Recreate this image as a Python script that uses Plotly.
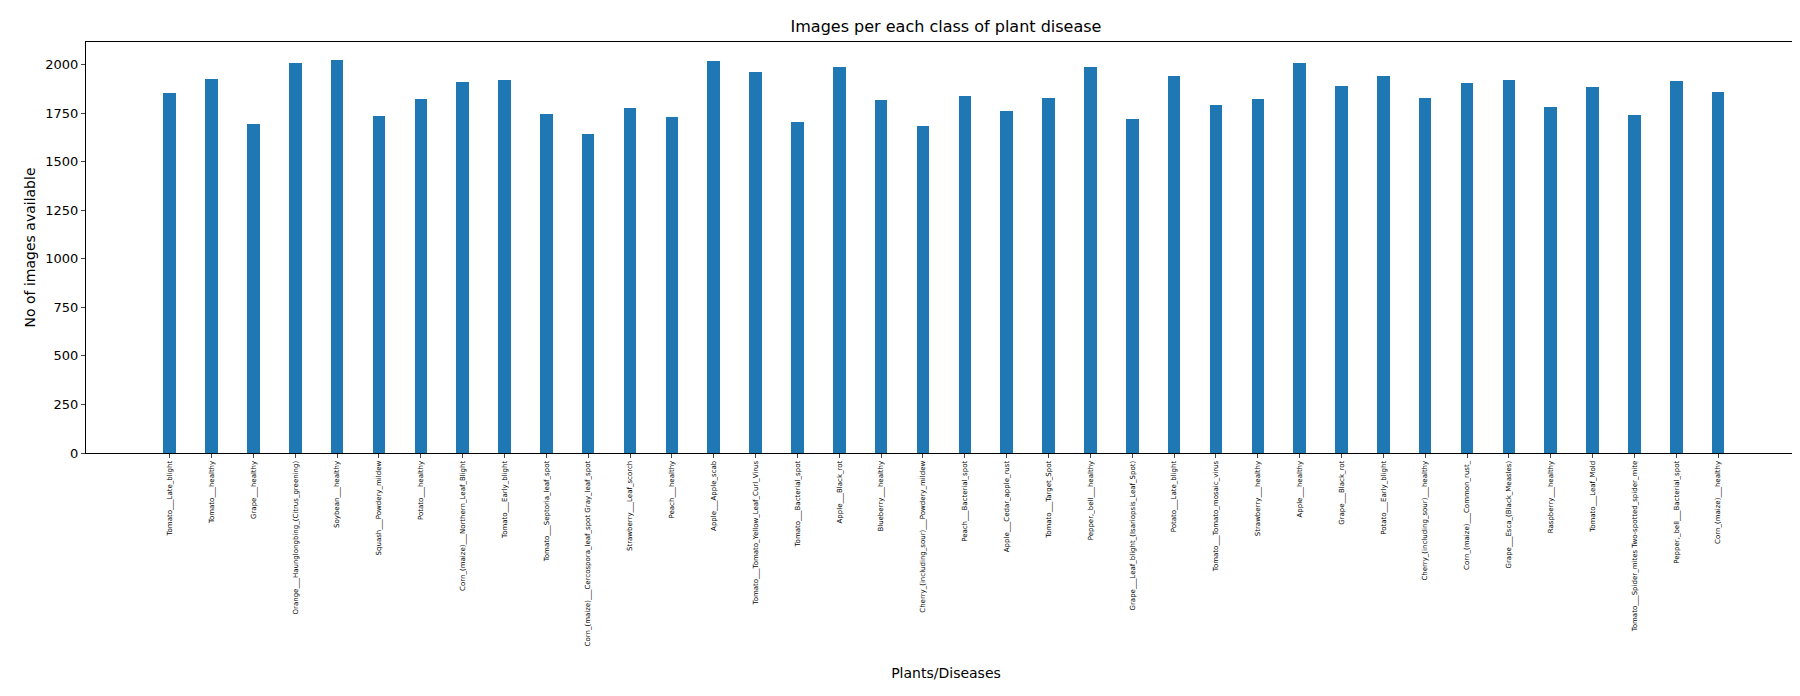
import plotly.graph_objects as go

classes = ["Tomato___Late_blight","Tomato___healthy","Grape___healthy","Orange___Haunglongbing_(Citrus_greening)",
"Soybean___healthy","Squash___Powdery_mildew","Potato___healthy","Corn_(maize)___Northern_Leaf_Blight",
"Tomato___Early_blight","Tomato___Septoria_leaf_spot","Corn_(maize)___Cercospora_leaf_spot Gray_leaf_spot",
"Strawberry___Leaf_scorch","Peach___healthy","Apple___Apple_scab","Tomato___Tomato_Yellow_Leaf_Curl_Virus",
"Tomato___Bacterial_spot","Apple___Black_rot","Blueberry___healthy","Cherry_(including_sour)___Powdery_mildew",
"Peach___Bacterial_spot","Apple___Cedar_apple_rust","Tomato___Target_Spot","Pepper,_bell___healthy",
"Grape___Leaf_blight_(Isariopsis_Leaf_Spot)","Potato___Late_blight","Tomato___Tomato_mosaic_virus",
"Strawberry___healthy","Apple___healthy","Grape___Black_rot","Potato___Early_blight",
"Cherry_(including_sour)___healthy","Corn_(maize)___Common_rust_","Grape___Esca_(Black_Measles)",
"Raspberry___healthy","Tomato___Leaf_Mold","Tomato___Spider_mites Two-spotted_spider_mite",
"Pepper,_bell___Bacterial_spot","Corn_(maize)___healthy"]
counts = [1851,1926,1692,2010,2022,1736,1824,1908,1920,1745,1642,1774,1728,2016,1961,1702,1987,1816,1683,
1838,1760,1827,1988,1722,1939,1790,1824,2008,1888,1939,1826,1907,1920,1781,1882,1741,1913,1859]

idx = list(range(len(classes)))
fig = go.Figure(go.Bar(x=idx, y=counts, width=0.3, marker=dict(color="#1f77b4", line=dict(width=0))))
fig.update_layout(
    width=1800, height=696, paper_bgcolor="white", plot_bgcolor="white",
    margin=dict(l=78, r=2, t=34, b=251),
    font=dict(family="DejaVu Sans", color="black"),
    title=dict(text="Images per each class of plant disease", x=0.5, xref="paper", y=0.973, yanchor="middle",
               font=dict(size=16)),
    showlegend=False, bargap=0,
)
fig.update_xaxes(range=[-2.0, 39.1], tickmode="array", tickvals=idx, ticktext=classes, tickangle=-90,
                 tickfont=dict(size=7), ticks="outside", ticklen=4, showline=True, linecolor="black",
                 mirror=True, showgrid=False, zeroline=False,
                 title=dict(text="Plants/Diseases", font=dict(size=14), standoff=22))
fig.update_yaxes(range=[0, 2116], tickvals=list(range(0, 2001, 250)), tickfont=dict(size=13),
                 ticks="outside", ticklen=4, showline=True, linecolor="black", mirror=True,
                 showgrid=False, zeroline=False,
                 title=dict(text="No of images available", font=dict(size=14), standoff=6))
fig.write_html("out.html")
